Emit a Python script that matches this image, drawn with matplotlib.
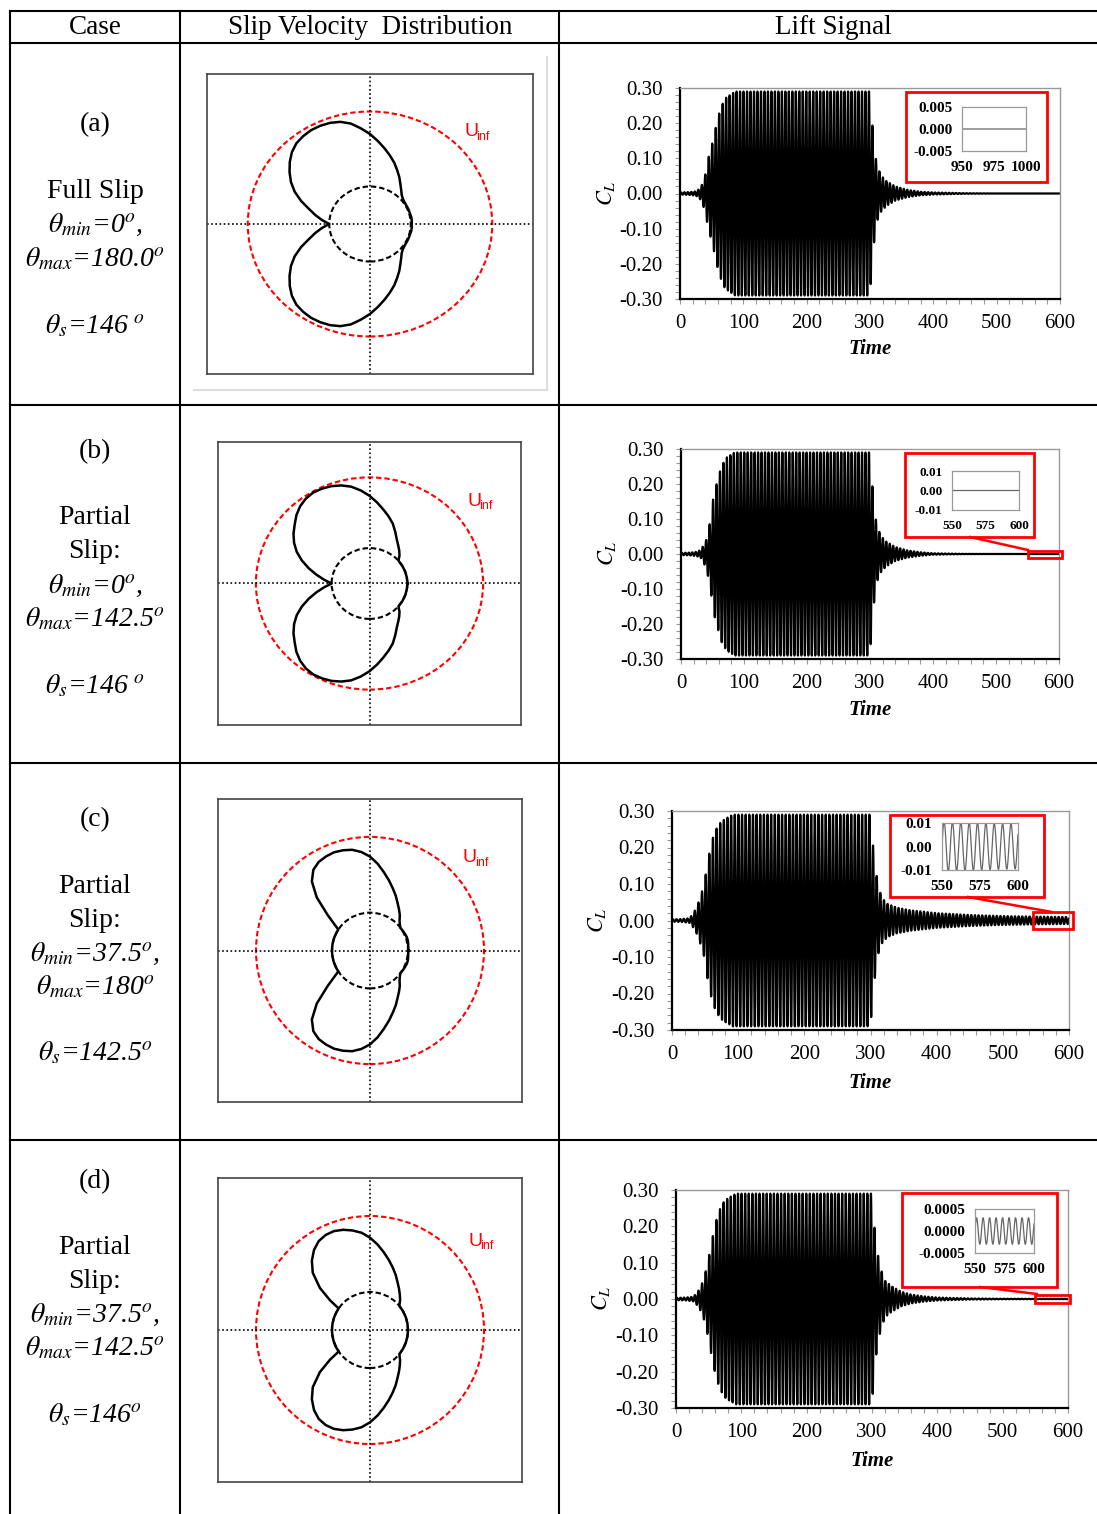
import numpy as np
import matplotlib
matplotlib.use('Agg')
import matplotlib.pyplot as plt
from matplotlib.lines import Line2D
from matplotlib.patches import Circle, Rectangle
from matplotlib.ticker import MultipleLocator

plt.rcParams['font.family'] = ['Liberation Serif', 'DejaVu Serif']
plt.rcParams['mathtext.fontset'] = 'stix'
plt.rcParams['path.simplify'] = False

W, H = 1097, 1514

# ---- slip velocity profiles: r = 1 + slip (cylinder radius = 1, U_inf ring at 3)
theta_a = [0, 5, 10, 15, 20, 25, 30, 35, 40, 45, 50, 55, 60, 65, 70, 75, 80, 85, 90, 95, 100,
           105, 110, 115, 120, 125, 130, 135, 140, 145, 150, 155, 160, 165, 170, 175, 180]
r_a = [1.02, 1.03, 1.03, 1.02, 1.02, 1.02, 1.02, 1.03, 1.05, 1.10, 1.19, 1.30, 1.44, 1.58,
       1.74, 1.89, 2.05, 2.22, 2.40, 2.56, 2.72, 2.82, 2.87, 2.89, 2.89, 2.86, 2.81, 2.71,
       2.57, 2.41, 2.24, 2.04, 1.80, 1.55, 1.36, 1.18, 1.00]

theta_b = [0, 10, 20, 30, 40, 42, 45, 50, 55, 60, 65, 70, 75, 80, 85, 90, 95, 100, 105, 110,
           115, 120, 125, 130, 135, 140, 145, 150, 155, 160, 165, 170, 175, 180]
r_b = [1.0, 1.0, 1.0, 1.0, 1.0, 1.04, 1.12, 1.22, 1.32, 1.44, 1.61, 1.80, 1.96, 2.12, 2.30,
       2.48, 2.64, 2.78, 2.87, 2.93, 2.96, 2.97, 2.93, 2.85, 2.73, 2.58, 2.45, 2.30, 2.12,
       1.90, 1.66, 1.42, 1.20, 1.0]

theta_c = [0, 5, 10, 15, 20, 25, 30, 37, 40, 45, 50, 55, 60, 65, 70, 75, 80, 85, 90, 95, 100,
           105, 110, 115, 120, 125, 130, 135, 140, 143, 146.5, 150, 155, 160, 165, 170, 175,
           180]
r_c = [1.01, 1.01, 1.02, 1.03, 1.03, 1.02, 1.01, 1.0, 1.03, 1.10, 1.22, 1.33, 1.45, 1.60,
       1.75, 1.92, 2.10, 2.30, 2.48, 2.61, 2.70, 2.74, 2.76, 2.74, 2.70, 2.60, 2.38, 1.98,
       1.45, 1.20, 1.0, 1.0, 1.0, 1.0, 1.0, 1.0, 1.0, 1.0]

theta_d = [0, 10, 20, 30, 39.5, 42, 45, 50, 55, 60, 65, 70, 75, 80, 85, 90, 95, 100, 105, 110,
           115, 120, 125, 130, 135, 140, 143.4, 145.5, 150, 155, 160, 165, 170, 175, 180]
r_d = [1.0, 1.0, 1.0, 1.0, 1.0, 1.05, 1.12, 1.22, 1.33, 1.45, 1.60, 1.75, 1.91, 2.08, 2.26,
       2.43, 2.57, 2.66, 2.73, 2.77, 2.76, 2.70, 2.57, 2.38, 2.13, 1.72, 1.31, 1.0, 1.0, 1.0,
       1.0, 1.0, 1.0, 1.0, 1.0]

# ---- lift coefficient: shedding period and amplitude envelope per case
shed_period = 5.5

env_t_a = [0, 15, 25, 30, 34, 39.5, 44.7, 50, 55, 60.5, 66, 71, 79, 87, 300, 302, 305, 308, 312,
           318, 326, 340, 360, 380, 400, 450, 500, 1000]
env_a = [0.003, 0.004, 0.006, 0.012, 0.022, 0.05, 0.10, 0.135, 0.175, 0.22, 0.25, 0.27, 0.28,
         0.29, 0.29, 0.23, 0.17, 0.11, 0.075, 0.05, 0.035, 0.02, 0.01, 0.005, 0.003, 0.0008,
         0.0, 0.0]

env_t_b = [0, 15, 25, 32, 40, 46, 52, 58, 64, 72, 85, 300, 302, 305, 308, 312, 318, 326, 340,
           360, 380, 400, 450, 500, 600]
env_b = [0.003, 0.004, 0.006, 0.012, 0.04, 0.09, 0.17, 0.21, 0.25, 0.275, 0.29, 0.29, 0.23,
         0.17, 0.11, 0.075, 0.05, 0.035, 0.02, 0.01, 0.005, 0.002, 0.0003, 0.0, 0.0]

env_t_c = [0, 15, 26, 31, 37, 42.5, 48.7, 53.8, 60.5, 66.7, 74, 82, 92, 300, 303, 307, 312, 318,
           326, 340, 360, 400, 450, 500, 550, 600]
env_c = [0.003, 0.004, 0.006, 0.016, 0.035, 0.062, 0.10, 0.16, 0.22, 0.25, 0.27, 0.28, 0.29,
         0.29, 0.22, 0.15, 0.09, 0.06, 0.045, 0.035, 0.028, 0.02, 0.015, 0.012, 0.0105, 0.0095]

env_t_d = [0, 15, 26, 31, 37, 42.5, 48.7, 53.8, 60.5, 66.7, 74, 82, 92, 300, 303, 308, 314, 320,
           330, 345, 360, 380, 400, 450, 500, 550, 600]
env_d = [0.003, 0.004, 0.006, 0.014, 0.03, 0.055, 0.10, 0.15, 0.21, 0.245, 0.27, 0.28, 0.29,
         0.29, 0.21, 0.13, 0.08, 0.05, 0.035, 0.02, 0.012, 0.007, 0.004, 0.0015, 0.0006, 0.0003,
         0.0003]

time_ticks = [0, 100, 200, 300, 400, 500, 600]
cl_ticks = [-0.3, -0.2, -0.1, 0.0, 0.1, 0.2, 0.3]
cl_tick_labels = ['-0.30', '-0.20', '-0.10', '0.00', '0.10', '0.20', '0.30']

inset_xlim = [(950, 1000), (550, 600), (550, 600), (550, 600)]
inset_xticks = [[950, 975, 1000], [550, 575, 600], [550, 575, 600], [550, 575, 600]]
inset_ylim = [0.005, 0.01, 0.01, 0.0005]
inset_ylabels = [['-0.005', '0.000', '0.005'], ['-0.01', '0.00', '0.01'],
                 ['-0.01', '0.00', '0.01'], ['-0.0005', '0.0000', '0.0005']]
inset_fs = [11, 9.5, 11, 11]

# zoom window on the main lift axes (t0, half height, t1)
zoom_win = [None, (550, 0.01, 605), (545, 0.022, 606), (549, 0.011, 603)]

case_tags = ['(a)', '(b)', '(c)', '(d)']
case_names = [['Full Slip'], ['Partial', 'Slip:'], ['Partial', 'Slip:'], ['Partial', 'Slip:']]
theta_min = ['0', '0', '37.5', '37.5']
theta_max = ['180.0', '142.5', '180', '142.5']
theta_sep = ['146\u2009', '146\u2009', '142.5', '146']

# ---- page layout (pixels)
slip_boxes = [(207, 74, 533, 374), (218, 442, 521, 725), (218, 799, 522, 1102),
              (218, 1178, 522, 1482)]
lift_boxes = [(680, 88, 1060, 299), (681, 449, 1059, 659), (672, 811, 1069, 1030),
              (676, 1190, 1068, 1408)]
red_boxes = [(906, 92, 1047, 182), (905, 453, 1034, 537), (890, 815, 1044, 897),
             (902, 1193, 1057, 1287)]
inset_boxes = [(962, 107, 1026, 151), (952, 471, 1019, 510), (942, 823, 1018, 870),
               (975, 1209, 1034, 1253)]
connectors = [None, ((970, 537), (1028, 550)), ((968, 897), (1052, 912)),
              ((980, 1287), (1037, 1294))]
text_rows = [[125, 192, 225, 259, 326], [452, 518, 552, 586, 619, 686],
             [820, 886, 920, 954, 987, 1053], [1182, 1248, 1281, 1315, 1348, 1415]]
uinf_pos = [(464, 132), (467, 501), (463, 858), (468, 1241)]
time_lbl = [(870, 349), (870, 710), (870, 1083), (872, 1461)]
cl_lbl = [(606, 193), (607, 553), (597, 920), (601, 1298)]

fig = plt.figure(figsize=(W / 100, H / 100), dpi=100)


def px_axes(box):
    x0, y0, x1, y1 = box
    return fig.add_axes([x0 / W, 1 - y1 / H, (x1 - x0) / W, (y1 - y0) / H])


def px_text(x, y, s, **kw):
    kw.setdefault('ha', 'center')
    kw.setdefault('va', 'center')
    fig.text(x / W, 1 - y / H, s, **kw)


def px_line(xs, ys, **kw):
    fig.add_artist(Line2D([x / W for x in xs], [1 - y / H for y in ys],
                          transform=fig.transFigure, **kw))


def draw_slip(ax, theta, r):
    theta = np.asarray(theta, float)
    r = np.asarray(r, float)
    th = np.deg2rad(np.concatenate([theta, -theta[::-1]]))
    rr = np.concatenate([r, r[::-1]])
    ax.axhline(0, color='k', ls=(0, (1, 1.5)), lw=1.2)
    ax.axvline(0, color='k', ls=(0, (1, 1.5)), lw=1.2)
    ax.add_patch(Circle((0, 0), 3, fill=False, ec='red', ls=(0, (2.6, 1.4)), lw=1.5))
    ax.add_patch(Circle((0, 0), 1, fill=False, ec='k', ls=(0, (2.6, 1.4)), lw=1.5))
    ax.plot(rr * np.cos(th), rr * np.sin(th), color='k', lw=1.8, solid_joinstyle='round')
    ax.set_xlim(-4, 4)
    ax.set_ylim(-4, 4)
    ax.set_xticks([])
    ax.set_yticks([])
    for s in ax.spines.values():
        s.set_color('#444')
        s.set_linewidth(1.2)


def draw_lift(ax, t, cl):
    ax.plot(t, cl, color='k', lw=1.6)
    ax.set_xlim(0, 600)
    ax.set_ylim(-0.3, 0.3)
    ax.set_xticks(time_ticks)
    ax.set_yticks(cl_ticks)
    ax.set_yticklabels(cl_tick_labels)
    ax.xaxis.set_minor_locator(MultipleLocator(20))
    ax.yaxis.set_minor_locator(MultipleLocator(0.02))
    ax.tick_params(which='both', direction='out', color='#999', length=3.5, width=0.8,
                   labelsize=15)
    ax.tick_params(axis='x', pad=7)
    ax.tick_params(axis='y', pad=9)
    for side in ('left', 'bottom'):
        ax.spines[side].set_color('k')
        ax.spines[side].set_linewidth(1.6)
    for side in ('top', 'right'):
        ax.spines[side].set_color('#999')
        ax.spines[side].set_linewidth(1.0)


def draw_inset(i, t, cl):
    x0, y0, x1, y1 = red_boxes[i]
    fig.add_artist(Rectangle((x0 / W, 1 - y1 / H), (x1 - x0) / W, (y1 - y0) / H,
                             transform=fig.transFigure, fill=False, ec='red', lw=2))
    ax = px_axes(inset_boxes[i])
    lo, hi = inset_xlim[i]
    m = (t >= lo) & (t <= hi)
    ax.plot(t[m], cl[m], color='#666', lw=0.9)
    ax.set_xlim(lo, hi)
    yl = inset_ylim[i]
    ax.set_ylim(-yl, yl)
    ax.set_xticks(inset_xticks[i])
    ax.set_yticks([-yl, 0, yl])
    ax.set_yticklabels(inset_ylabels[i])
    ax.tick_params(length=0, labelsize=inset_fs[i], pad=7)
    for lab in ax.get_xticklabels() + ax.get_yticklabels():
        lab.set_fontweight('bold')
    for s in ax.spines.values():
        s.set_color('#999')
        s.set_linewidth(0.9)


# ---- table grid
for y in (11, 43, 405, 763, 1140):
    px_line([10, 1097], [y, y], color='k', lw=1.5)
for x in (10, 180, 559):
    px_line([x, x], [11, 1514], color='k', lw=1.5)

px_text(95, 27, 'Case', fontsize=19.5)
px_text(370, 27, 'Slip Velocity  Distribution', fontsize=19.5)
px_text(833, 27, 'Lift Signal', fontsize=19.5)

# faint frame around the first slip panel
px_line([547, 547], [57, 390], color='#dddddd', lw=1.5)
px_line([194, 547], [390, 390], color='#dddddd', lw=1.5)

slips = [(theta_a, r_a), (theta_b, r_b), (theta_c, r_c), (theta_d, r_d)]
envs = [(env_t_a, env_a), (env_t_b, env_b), (env_t_c, env_c), (env_t_d, env_d)]

for i in range(4):
    # case description column
    rows = text_rows[i]
    lines = [case_tags[i]] + case_names[i]
    for s, y in zip(lines, rows):
        px_text(95, y, s, fontsize=20)
    k = len(lines)
    px_text(95, rows[k], r'$\theta_{min}$=' + theta_min[i] + r'$^o$,', fontsize=20,
            fontstyle='italic')
    px_text(95, rows[k + 1], r'$\theta_{max}$=' + theta_max[i] + r'$^o$', fontsize=20,
            fontstyle='italic')
    px_text(95, rows[k + 2], r'$\theta_s$=' + theta_sep[i] + r'$^o$', fontsize=20,
            fontstyle='italic')

    # slip velocity distribution
    ax = px_axes(slip_boxes[i])
    draw_slip(ax, *slips[i])
    ux, uy = uinf_pos[i]
    px_text(ux, uy, 'U', ha='left', color='red', fontsize=14, family='Liberation Sans')
    px_text(ux + 12, uy + 5, 'inf', ha='left', color='red', fontsize=9,
            family='Liberation Sans')

    # lift signal
    et, ea = envs[i]
    t = np.arange(0, et[-1] + 0.02, 0.02)
    cl = np.interp(t, et, ea) * np.sin(2 * np.pi * t / shed_period)
    ax = px_axes(lift_boxes[i])
    draw_lift(ax, t, cl)
    if zoom_win[i] is not None:
        t0, hh, t1 = zoom_win[i]
        ax.add_patch(Rectangle((t0, -hh), t1 - t0, 2 * hh, fill=False, ec='red', lw=2,
                               clip_on=False, zorder=5))
        (cx0, cy0), (cx1, cy1) = connectors[i]
        px_line([cx0, cx1], [cy0, cy1], color='red', lw=1.8)
    px_text(*time_lbl[i], 'Time', fontsize=15, fontweight='bold', fontstyle='italic')
    px_text(*cl_lbl[i], r'$C_L$', fontsize=16, rotation=90)
    draw_inset(i, t, cl)

fig.savefig('out.png', dpi=100)
